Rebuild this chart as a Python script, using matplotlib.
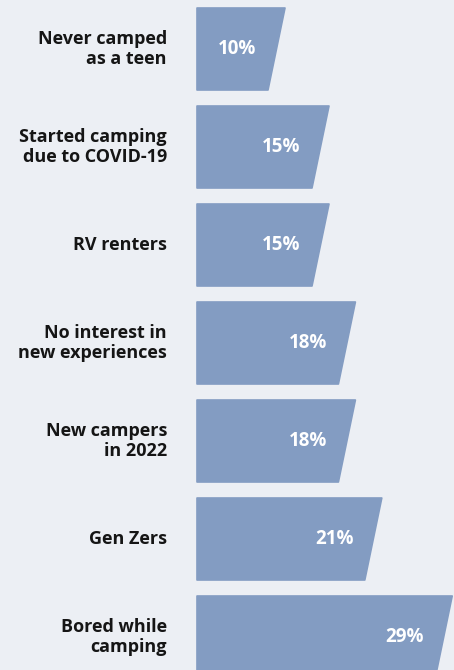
import matplotlib

matplotlib.use("Agg")
import matplotlib.pyplot as plt
from matplotlib.patches import Polygon

labels = [
    "Never camped\nas a teen",
    "Started camping\ndue to COVID-19",
    "RV renters",
    "No interest in\nnew experiences",
    "New campers\nin 2022",
    "Gen Zers",
    "Bored while\ncamping",
]
values = [10, 15, 15, 18, 18, 21, 29]

BG = "#eceff4"
BAR = "#839cc2"
PX_PER_PCT = 8.8
LEFT_PX = 197
BAR_H = 82 / 98
SLANT = 17 / PX_PER_PCT

fig = plt.figure(figsize=(4.54, 6.70), dpi=100, facecolor=BG)
ax = fig.add_axes([0, 0, 1, 1])
ax.set_facecolor(BG)
ax.set_xlim(-LEFT_PX / PX_PER_PCT, (454 - LEFT_PX) / PX_PER_PCT)
ax.set_ylim((670 - 49) / 98, -49 / 98)
ax.axis("off")

for i, (label, value) in enumerate(zip(labels, values)):
    top = i - BAR_H / 2
    bottom = i + BAR_H / 2
    poly = Polygon(
        [(0, top), (value, top), (value - SLANT, bottom), (0, bottom)],
        closed=True,
        facecolor=BAR,
        edgecolor=BAR,
        linewidth=1.2,
        joinstyle="round",
    )
    ax.add_patch(poly)
    ax.text(
        value - SLANT / 2 - 20 / PX_PER_PCT,
        i,
        f"{value}%",
        ha="right",
        va="center",
        color="white",
        fontsize=13.5,
        fontweight="bold",
        family="Open Sans",
    )
    ax.text(
        -30 / PX_PER_PCT,
        i,
        label,
        ha="right",
        va="center",
        color="#151515",
        fontsize=13,
        fontweight="bold",
        family="Open Sans",
        linespacing=1.15,
    )

fig.savefig("out.png", dpi=100, facecolor=BG)
